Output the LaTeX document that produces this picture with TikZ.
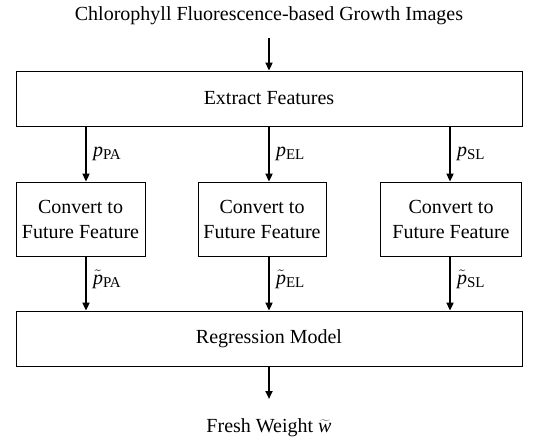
\documentclass[tikz,border=0pt]{standalone}
\usepackage{fontspec}
\setmainfont{Liberation Serif}
\usetikzlibrary{arrows.meta}
\newcommand{\lbl}[1]{\textit{p}\textsubscript{\fontsize{15}{15}\selectfont#1}}
\newcommand{\tlbl}[1]{$\tilde{\mbox{\itshape p}}$\textsubscript{\fontsize{15}{15}\selectfont#1}}
\begin{document}
\begin{tikzpicture}[x=1pt,y=-1pt,
  box/.style={draw,line width=0.9pt,inner sep=0pt,font=\fontsize{20}{25}\selectfont,align=center},
  arr/.style={line width=2pt,-{Triangle[length=8pt,width=7pt]}},
  lab/.style={font=\fontsize{20}{24}\selectfont,anchor=west,inner sep=1pt},
  txt/.style={font=\fontsize{20}{24}\selectfont}]
\useasboundingbox (0,0) rectangle (545,439);
\node[txt] (title) at (269,16) {Chlorophyll Fluorescence-based Growth Images};
\coordinate (tin) at (269,38);
\node[box,minimum width=506pt,minimum height=55pt] (ext) at (269,98.5) {Extract Features};
\node[box,minimum width=129pt,minimum height=74pt] (c1) at (80.5,219) {Convert to\\Future Feature};
\node[box,minimum width=128pt,minimum height=74pt] (c2) at (262,219) {Convert to\\Future Feature};
\node[box,minimum width=141pt,minimum height=74pt] (c3) at (451,219) {Convert to\\Future Feature};
\node[box,minimum width=506pt,minimum height=55pt] (reg) at (269,338.5) {Regression Model};
\coordinate (wout) at (269,399);
\node[txt] (fw) at (269,428) {Fresh Weight $\widetilde{\mbox{\itshape w}}$};
\draw[arr] (ext.south -| 86,0) -- (c1.north -| 86,0) node[lab,midway,xshift=5pt] {\lbl{PA}};
\draw[arr] (tin) -- (ext.north);
\draw[arr] (ext.south) -- (c2.north -| ext.south) node[lab,midway,xshift=5pt] {\lbl{EL}};
\draw[arr] (ext.south -| 450,0) -- (c3.north -| 450,0) node[lab,midway,xshift=5pt] {\lbl{SL}};
\draw[arr] (c1.south -| 86,0) -- (reg.north -| 86,0) node[lab,midway,xshift=5pt,yshift=4pt] {\tlbl{PA}};
\draw[arr] (c2.south -| reg.north) -- (reg.north) node[lab,midway,xshift=5pt,yshift=4pt] {\tlbl{EL}};
\draw[arr] (c3.south -| 450,0) -- (reg.north -| 450,0) node[lab,midway,xshift=5pt,yshift=4pt] {\tlbl{SL}};
\draw[arr] (reg.south) -- (wout);
\end{tikzpicture}
\end{document}
